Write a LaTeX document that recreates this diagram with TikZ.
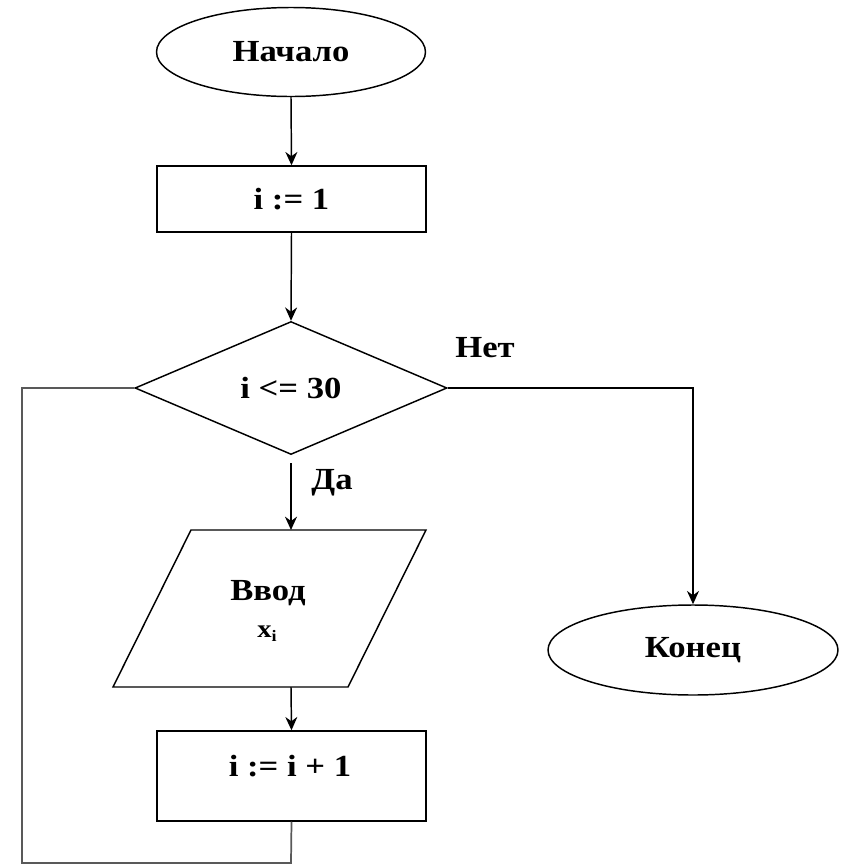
\documentclass[tikz,border=0pt]{standalone}
\usepackage{fontspec}
\setmainfont{Liberation Serif}[FakeStretch=1.13]
\usetikzlibrary{shapes.geometric,arrows.meta}
\tikzset{
  base/.style={draw=black, line width=1.1pt, font=\fontsize{23}{27}\selectfont\bfseries, align=center, inner sep=0pt},
  term/.style={base, ellipse},
  proc/.style={base, rectangle},
  cond/.style={base, diamond},
  lbl/.style={font=\fontsize{23}{27}\selectfont\bfseries, inner sep=0pt},
  flow/.style={line width=1.1pt, -{Stealth[length=10pt,width=9pt]}},
  loop/.style={line width=1.3pt, draw=black!65},
}
\begin{document}
\begin{tikzpicture}[x=0.75pt,y=-0.75pt]
\useasboundingbox (0,0) rectangle (844,865);
\node[term, minimum width=201.75pt, minimum height=66.75pt] (start) at (291,52) {Начало};
\node[proc, minimum width=201.75pt, minimum height=49.5pt] (b1) at (291.5,199) {i := 1};
\node[cond, minimum width=234pt, minimum height=99.75pt, aspect=2.3] (d) at (291,388) {i <= 30};
% input parallelogram
\coordinate (pTL) at (191,530);
\coordinate (pTR) at (426,530);
\coordinate (pBR) at (348,687);
\coordinate (pBL) at (113,687);
\coordinate (inTop) at (291,530);
\coordinate (inBot) at (291,687);
\draw[line width=1.1pt] (pTL) -- (pTR) -- (pBR) -- (pBL) -- cycle;
\node[lbl] (inTxt) at (268,593) {Ввод};
\node[lbl, font=\fontsize{19}{22}\selectfont\bfseries] (inX) at (267,634) {x\raisebox{-0.35ex}{\fontsize{12}{13}\selectfont i}};
\node[proc, minimum width=201.75pt, minimum height=67.5pt] (b2) at (291.5,776) {};
\node[lbl] (b2txt) at (290,766) {i := i + 1};
\node[term, minimum width=217.5pt, minimum height=67.5pt] (fin) at (693,650) {Конец};
% labels
\node[lbl] (no) at (485,348) {Нет};
\node[lbl] (yes) at (332,483) {Да};
% connectors
\draw[flow] (start.south) -- (b1.north);
\draw[flow] (b1.south) -- (d.north);
\draw[flow, shorten <=6pt] (d.south) -- (inTop);
\draw[flow] (inBot) -- (b2.north);
\draw[flow] (d.east) -| (fin.north);
\coordinate (lb) at (291,863);
\coordinate (ll) at (22,863);
\coordinate (lt) at (22,388);
\draw[loop] (b2.south) -- (lb) -- (ll) -- (lt) -- (d.west);
\end{tikzpicture}
\end{document}
